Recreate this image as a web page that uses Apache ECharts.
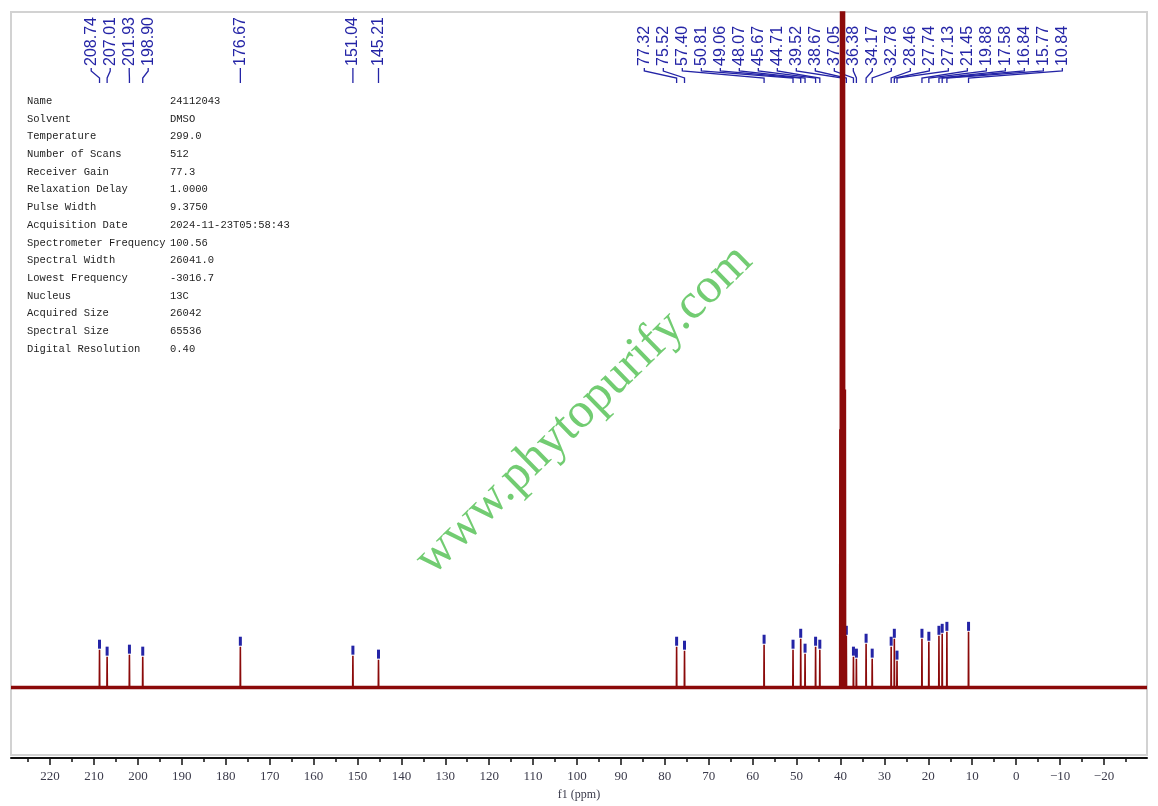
<!DOCTYPE html>
<html><head><meta charset="utf-8">
<script src="https://cdn.jsdelivr.net/npm/echarts@6/dist/echarts.min.js"></script>
<style>html,body{margin:0;padding:0;background:#fff}#c{width:1158px;height:806px}</style>
</head><body><div id="c"></div>
<script>
// ---- data ----
const peakPpm = [208.74,207.01,201.93,198.90,176.67,151.04,145.21,77.32,75.52,57.40,50.81,49.06,48.07,45.67,44.71,39.52,38.67,37.05,36.38,34.17,32.78,28.46,27.74,27.13,21.45,19.88,17.58,16.84,15.77,10.84];
const peakHeight = [38,31,33,31,41,32,28,41,37,43,38,49,34,41,38,2100,52,31,29,44,29,41,49,27,49,46,52,54,56,56];
const solventPpm = [40.14,39.93,39.72,39.31,39.10,38.89];
const solventHeight = [260,1000,1900,1900,1000,300];
const majorTicks = [220,210,200,190,180,170,160,150,140,130,120,110,100,90,80,70,60,50,40,30,20,10,0,-10,-20];
const minorTicks = [225,215,205,195,185,175,165,155,145,135,125,115,105,95,85,75,65,55,45,35,25,15,5,-5,-15,-25];
const paramNames = ['Name','Solvent','Temperature','Number of Scans','Receiver Gain','Relaxation Delay','Pulse Width','Acquisition Date','Spectrometer Frequency','Spectral Width','Lowest Frequency','Nucleus','Acquired Size','Spectral Size','Digital Resolution'];
const paramValues = ['24112043','DMSO','299.0','512','77.3','1.0000','9.3750','2024-11-23T05:58:43','100.56','26041.0','-3016.7','13C','26042','65536','0.40'];
const watermarkText = 'www.phytopurify.com';
const axisName = 'f1 (ppm)';
const xMin = -29.8, xMax = 228.9;

// ---- build spectrum line from peak list ----
const lines = peakPpm.map((p,i)=>[p,peakHeight[i]]).concat(solventPpm.map((p,i)=>[p,solventHeight[i]]));
lines.sort((a,b)=>b[0]-a[0]);
const hw = 0.05;
const spectrum = [[xMax,0]];
lines.forEach(([p,h])=>{ spectrum.push([p+hw,0],[p,h],[p-hw,0]); });
spectrum.push([xMin,0]);

const RED = '#8b0a0a';
const BLUE = '#2424a6';

function layoutLabels(xs, gap){
  let groups = xs.map((x,i)=>({n:1,sum:x}));
  let changed = true;
  while(changed){
    changed=false;
    for(let k=0;k<groups.length-1;k++){
      const a=groups[k], b=groups[k+1];
      const aR = a.sum/a.n + (a.n-1)*gap/2;
      const bL = b.sum/b.n - (b.n-1)*gap/2;
      if(bL-aR < gap){ a.n+=b.n; a.sum+=b.sum; groups.splice(k+1,1); changed=true; break; }
    }
  }
  const out=[];
  groups.forEach(g=>{ const c=g.sum/g.n; for(let j=0;j<g.n;j++) out.push(c+(j-(g.n-1)/2)*gap); });
  return out;
}

const chart = echarts.init(document.getElementById('c'), null, {renderer:'canvas'});

const paramGraphics = [];
paramNames.forEach((n,i)=>{
  const y = 101 + i*17.72;
  paramGraphics.push({type:'text', x:27, y:y, style:{text:n, font:'10.5px "Liberation Mono"', fill:'#1e1e1e', verticalAlign:'middle'}});
  paramGraphics.push({type:'text', x:170, y:y, style:{text:paramValues[i], font:'10.5px "Liberation Mono"', fill:'#1e1e1e', verticalAlign:'middle'}});
});

const option = {
  animation:false,
  backgroundColor:'#fff',
  grid:{left:11,right:11,top:12,bottom:46,show:true,borderColor:'#d2d2d2',borderWidth:2},
  xAxis:[{
    type:'value', inverse:true, min:xMin, max:xMax, position:'bottom', offset:3,
    axisLine:{show:true,onZero:false,lineStyle:{color:'#111',width:2}},
    axisTick:{show:true,customValues:majorTicks,length:7,inside:false,lineStyle:{color:'#111',width:1.5}},
    axisLabel:{customValues:majorTicks,margin:12,fontFamily:'Liberation Serif',fontSize:13,color:'#3a3a4a',
      formatter:v=> v<0 ? '\u2212'+(-v) : String(v)},
    splitLine:{show:false},
    name:axisName, nameLocation:'middle', nameGap:31,
    nameTextStyle:{fontFamily:'Liberation Serif',fontSize:12,color:'#3a3a4a'}
  },{
    type:'value', inverse:true, min:xMin, max:xMax, position:'bottom', offset:3,
    axisLine:{show:false,onZero:false},
    axisTick:{show:true,customValues:minorTicks,length:4,inside:false,lineStyle:{color:'#111',width:1.5}},
    axisLabel:{show:false}, splitLine:{show:false}
  }],
  yAxis:{type:'value',min:-68,max:680,show:false},
  graphic:[
    {type:'text', x:584, y:410, rotation:44.3*Math.PI/180, z:-1,
     style:{text:watermarkText, font:'50px "Liberation Serif"', fill:'#72cc72', align:'center', verticalAlign:'middle'}}
  ].concat(paramGraphics),
  series:[
    {type:'line', data:[[xMax,0],[xMin,0]], symbol:'none', silent:true, lineStyle:{color:RED,width:3.5}},
    {type:'line', data:spectrum, symbol:'none', silent:true, lineStyle:{color:RED,width:1.6}},
    {type:'custom', clip:true, silent:true,
     data:peakPpm.map((p,i)=>[p,peakHeight[i]]),
     renderItem:(params,api)=>{
       const pt = api.coord([api.value(0),api.value(1)]);
       return {type:'rect', shape:{x:pt[0]-1.5,y:pt[1]-10,width:3,height:9}, style:{fill:BLUE}};
     }},
    {type:'custom', clip:false, silent:true,
     data:peakPpm.map((p,i)=>[p,i]),
     renderItem:(params,api)=>{
       const xs = peakPpm.map(p=>api.coord([p,0])[0]);
       const order = xs.map((x,i)=>i).sort((a,b)=>xs[a]-xs[b]);
       const lay = layoutLabels(order.map(i=>xs[i]),19);
       const lx = {}; order.forEach((idx,k)=>{lx[idx]=lay[k];});
       const i = params.dataIndex;
       const L = lx[i], P = xs[i];
       const yT = 66;
       return {type:'group', children:[
         {type:'text', x:L, y:yT, rotation:Math.PI/2,
          style:{text:peakPpm[i].toFixed(2), font:'16px "Liberation Sans"', fill:BLUE, align:'left', verticalAlign:'middle'}},
         {type:'polyline', shape:{points:[[L,yT+2],[L,yT+5],[P,yT+12],[P,yT+17]]},
          style:{stroke:BLUE,lineWidth:1.3,fill:null}}
       ]};
     }}
  ]
};
chart.setOption(option);
</script>
</body></html>
